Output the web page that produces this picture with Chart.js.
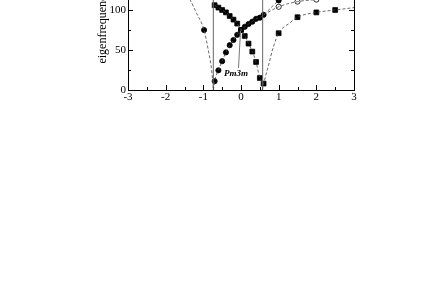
<!DOCTYPE html>
<html lang="en">
<head>
  <meta charset="UTF-8">
  <title>eigenfrequency</title>
  <style>
    body {
      margin: 0;
      background: white;
      overflow: hidden;
      width: 436px;
      height: 308px;
    }
    #box {
      position: absolute;
      left: 0;
      top: -100px;
      width: 436px;
      height: 220px;
    }
  </style>
</head>
<body>
  <div id="box"><canvas id="chart" width="436" height="220"></canvas></div>

  <script src="https://cdn.jsdelivr.net/npm/chart.js"></script>
  <script>
    // soft mode branches around the Pm3m point
    const branchX = [-0.7, -0.6, -0.5, -0.4, -0.3, -0.2, -0.1, 0, 0.1, 0.2, 0.3, 0.4, 0.5, 0.6];
    const descY = [106, 103, 100, 97, 92.5, 88, 83, 75, 67.5, 58, 48, 35, 15, 8];
    const ascY = [11, 24.6, 36, 47, 56, 62.5, 69, 75, 79, 82.5, 85.4, 89, 90.4, 94];

    // dashed guide curves
    const leftCurveX = [-2.0, -1.6, -1.35, -1.18, -0.98, -0.87, -0.78, -0.73];
    const leftCurveY = [145, 128, 112.5, 96, 75, 50, 25, 0];
    const ascCurveX = [-0.73, ...branchX, 0.8, 1.0, 1.2];
    const ascCurveY = [0, ...ascY, 103, 112, 120];
    const openCurveX = [0.6, 1.0, 1.5, 2.0, 2.5, 3.0];
    const openCurveY = [94, 104, 110.5, 113, 115, 116];
    const lowCurveX = [0.56, 0.65, 0.72, 0.86, 1.0, 1.3, 1.5, 2.0, 2.5, 3.0];
    const lowCurveY = [0, 17, 29, 54, 71, 84, 91, 97, 100, 103];

    // extra markers
    const leftMarkX = [-0.98];
    const leftMarkY = [75];
    const ascUpMarkX = [1.0];
    const ascUpMarkY = [112];
    const openMarkX = [1.0, 1.5, 2.0];
    const openMarkY = [104, 110.5, 113];
    const lowMarkX = [1.0, 1.5, 2.0, 2.5];
    const lowMarkY = [71, 91, 97, 100];

    // phase boundaries and label pointer
    const boundaryX = [-0.735, 0.575];
    const pointerX = [-0.066, -0.013];
    const pointerY = [27.5, 73.7];
    const labelPos = { x: -0.13, y: 21, text: 'Pm3m' };

    const xTicks = [-3, -2.5, -2, -1.5, -1, -0.5, 0, 0.5, 1, 1.5, 2, 2.5, 3];
    const yTicks = [0, 25, 50, 75, 100, 125, 150, 175, 200];

    const pts = (xs, ys) => xs.map((x, i) => ({ x: x, y: ys[i] }));

    const dashed = (xs, ys) => ({
      data: pts(xs, ys),
      showLine: true,
      borderColor: '#444',
      borderWidth: 0.8,
      borderDash: [3, 2],
      cubicInterpolationMode: 'monotone',
      pointRadius: 0
    });

    const marks = (xs, ys, style, filled) => ({
      data: pts(xs, ys),
      showLine: false,
      pointStyle: style,
      pointRadius: style === 'rect' ? 3.4 : 2.6,
      pointBackgroundColor: filled ? '#000' : '#fff',
      pointBorderColor: '#000',
      pointBorderWidth: 0.8
    });

    const solid = (xs, ys, color) => ({
      data: pts(xs, ys),
      showLine: true,
      borderColor: color,
      borderWidth: 1,
      pointRadius: 0
    });

    const datasets = [
      dashed(leftCurveX, leftCurveY),
      dashed(ascCurveX, ascCurveY),
      dashed(branchX, descY),
      dashed(openCurveX, openCurveY),
      dashed(lowCurveX, lowCurveY),
      solid([boundaryX[0], boundaryX[0]], [0, 200], '#666'),
      solid([boundaryX[1], boundaryX[1]], [0, 200], '#666'),
      solid(pointerX, pointerY, '#777'),
      marks(branchX, descY, 'rect', true),
      marks(branchX, ascY, 'circle', true),
      marks(leftMarkX, leftMarkY, 'circle', true),
      marks(ascUpMarkX, ascUpMarkY, 'circle', true),
      marks(openMarkX, openMarkY, 'circle', false),
      marks(lowMarkX, lowMarkY, 'rect', true)
    ];

    // frame with inward ticks on all four sides, plus the Pm3m label
    const frame = {
      id: 'frame',
      afterDatasetsDraw(chart) {
        const ctx = chart.ctx;
        const a = chart.chartArea;
        const x = chart.scales.x;
        const y = chart.scales.y;
        ctx.save();
        ctx.strokeStyle = '#000';
        ctx.lineWidth = 1;
        ctx.strokeRect(Math.round(a.left) + 0.5, Math.round(a.top) + 0.5,
          Math.round(a.right - a.left), Math.round(a.bottom - a.top));
        ctx.beginPath();
        xTicks.forEach(v => {
          const px = Math.round(x.getPixelForValue(v)) + 0.5;
          const len = Number.isInteger(v) ? 5 : 3;
          ctx.moveTo(px, a.bottom); ctx.lineTo(px, a.bottom - len);
          ctx.moveTo(px, a.top); ctx.lineTo(px, a.top + len);
        });
        yTicks.forEach(v => {
          const py = Math.round(y.getPixelForValue(v)) + 0.5;
          const len = v % 50 === 0 ? 5 : 3;
          ctx.moveTo(a.left, py); ctx.lineTo(a.left + len, py);
          ctx.moveTo(a.right, py); ctx.lineTo(a.right - len, py);
        });
        ctx.stroke();

        ctx.fillStyle = '#000';
        ctx.font = 'italic bold 9px "Liberation Serif"';
        ctx.textAlign = 'center';
        ctx.textBaseline = 'middle';
        ctx.fillText(labelPos.text, x.getPixelForValue(labelPos.x), y.getPixelForValue(labelPos.y));
        ctx.restore();
      }
    };

    const ctx = document.getElementById('chart').getContext('2d');
    new Chart(ctx, {
      type: 'scatter',
      data: { datasets: datasets },
      options: {
        responsive: false,
        animation: false,
        devicePixelRatio: 1,
        layout: { padding: { left: 88, right: 82, top: 30, bottom: 10 } },
        plugins: {
          legend: { display: false },
          tooltip: { enabled: false }
        },
        scales: {
          x: {
            type: 'linear',
            min: -3,
            max: 3,
            grid: { display: false, drawTicks: false },
            border: { display: false },
            ticks: {
              stepSize: 1,
              padding: 1,
              color: '#000',
              font: { family: 'Liberation Serif', size: 11 }
            },
            afterFit: s => { s.height = 20; }
          },
          y: {
            min: 0,
            max: 200,
            grid: { display: false, drawTicks: false },
            border: { display: false },
            ticks: {
              stepSize: 50,
              padding: 2,
              color: '#000',
              font: { family: 'Liberation Serif', size: 11 }
            },
            title: {
              display: true,
              text: 'eigenfrequency (cm⁻¹)',
              color: '#000',
              padding: { top: 8, bottom: 0 },
              font: { family: 'Liberation Serif', size: 12 }
            },
            afterFit: s => { s.width = 40; }
          }
        }
      },
      plugins: [frame]
    });
  </script>
</body>
</html>
